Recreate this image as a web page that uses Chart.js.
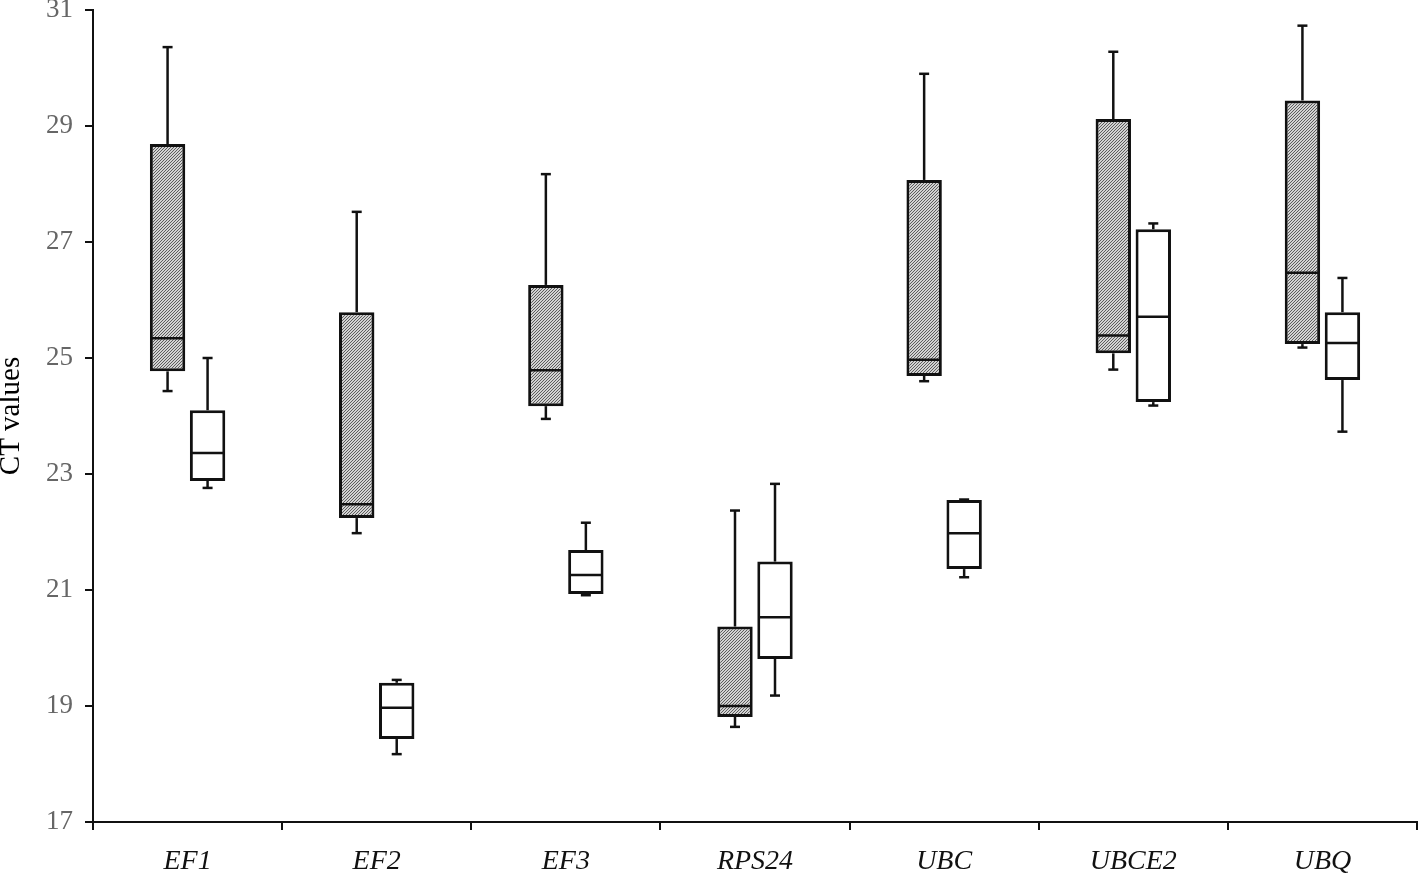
<!DOCTYPE html>
<html>
<head>
<meta charset="utf-8">
<script src="https://cdn.jsdelivr.net/npm/chart.js@4/dist/chart.umd.min.js"></script>
<style>
html,body{margin:0;padding:0;background:#fff;}
#wrap{width:1418px;height:875px;position:relative;}
</style>
</head>
<body>
<div id="wrap"><canvas id="c"></canvas></div>
<script>
const categories = ['EF1','EF2','EF3','RPS24','UBC','UBCE2','UBQ'];
const yTicks = [17,19,21,23,25,27,29,31];

// hatched (grey) series
const grayMin    = [24.43, 21.98, 23.95, 18.64, 24.60, 24.80, 25.18];
const grayQ1     = [24.77, 22.24, 24.17, 18.81, 24.69, 25.08, 25.24];
const grayMedian = [25.34, 22.48, 24.79, 19.00, 24.97, 25.39, 26.47];
const grayQ3     = [28.69, 25.79, 26.26, 20.37, 28.07, 29.12, 29.44];
const grayMax    = [30.36, 27.52, 28.17, 22.37, 29.90, 30.28, 30.73];

// white series
const whiteMin    = [22.76, 18.17, 20.91, 19.18, 21.22, 24.18, 23.73];
const whiteQ1     = [22.88, 18.43, 20.93, 19.81, 21.36, 24.24, 24.62];
const whiteMedian = [23.36, 18.97, 21.26, 20.53, 21.98, 25.71, 25.26];
const whiteQ3     = [24.10, 19.40, 21.69, 21.49, 22.55, 27.22, 25.79];
const whiteMax    = [25.00, 19.45, 22.16, 22.83, 22.56, 27.32, 26.38];

const canvas = document.getElementById('c');
const mainCtx = canvas.getContext('2d');

function hatchPattern(){
  const t = document.createElement('canvas');
  t.width = 3; t.height = 3;
  const g = t.getContext('2d');
  g.fillStyle = '#d2d2d2'; g.fillRect(0,0,3,3);
  g.fillStyle = '#5c5c5c';
  g.fillRect(0,2,1,1); g.fillRect(1,1,1,1); g.fillRect(2,0,1,1);
  return mainCtx.createPattern(t,'repeat');
}

const stats = [
  {min: grayMin, q1: grayQ1, med: grayMedian, q3: grayQ3, max: grayMax},
  {min: whiteMin, q1: whiteQ1, med: whiteMedian, q3: whiteQ3, max: whiteMax}
];

const whiskerPlugin = {
  id: 'whiskers',
  afterDatasetsDraw(chart){
    const ctx = chart.ctx, y = chart.scales.y;
    ctx.save();
    ctx.strokeStyle = '#111';
    ctx.lineWidth = 2.5;
    ctx.lineCap = 'butt';
    const line = (x1,y1,x2,y2)=>{ctx.beginPath();ctx.moveTo(x1,y1);ctx.lineTo(x2,y2);ctx.stroke();};
    stats.forEach((s,di)=>{
      const meta = chart.getDatasetMeta(di);
      meta.data.forEach((bar,i)=>{
        const x = bar.x, hw = bar.width/2;
        const pm = y.getPixelForValue(s.med[i]);
        line(x-hw+1, pm, x+hw-1, pm);
        const p3 = y.getPixelForValue(s.q3[i]), pmax = y.getPixelForValue(s.max[i]);
        const p1 = y.getPixelForValue(s.q1[i]), pmin = y.getPixelForValue(s.min[i]);
        if (pmax < p3) { line(x, p3, x, pmax); line(x-5, pmax, x+5, pmax); }
        if (pmin > p1) { line(x, p1, x, pmin); line(x-5, pmin, x+5, pmin); }
      });
    });
    ctx.restore();
  }
};

new Chart(canvas, {
  type: 'bar',
  data: {
    labels: categories,
    datasets: [
      {
        data: categories.map((_,i)=>[grayQ1[i], grayQ3[i]]),
        backgroundColor: hatchPattern(),
        borderColor: '#111',
        borderWidth: 3,
        borderSkipped: false,
        categoryPercentage: 0.423,
        barPercentage: 0.885
      },
      {
        data: categories.map((_,i)=>[whiteQ1[i], whiteQ3[i]]),
        backgroundColor: '#ffffff',
        borderColor: '#111',
        borderWidth: 3,
        borderSkipped: false,
        categoryPercentage: 0.423,
        barPercentage: 0.885
      }
    ]
  },
  options: {
    responsive: true,
    maintainAspectRatio: false,
    animation: false,
    layout: {padding: {top: 10, right: 1, left: 0, bottom: 0}},
    plugins: {legend: {display: false}, tooltip: {enabled: false}},
    scales: {
      x: {
        grid: {display: true, drawOnChartArea: false, drawTicks: true, tickLength: 8, color: '#111', lineWidth: 2, offset: true},
        border: {display: true, color: '#111', width: 2},
        ticks: {
          padding: 15,
          color: '#111',
          font: {family: 'Liberation Serif', size: 28, style: 'italic'}
        },
        afterFit(s){ s.height = 53; s.paddingLeft = 0; s.paddingRight = 0; }
      },
      y: {
        min: 17, max: 31,
        afterBuildTicks(s){ s.ticks = yTicks.map(v=>({value: v})); },
        grid: {display: true, drawOnChartArea: false, drawTicks: true, tickLength: 8, color: '#111', lineWidth: 2},
        border: {display: true, color: '#111', width: 2},
        ticks: {
          padding: 12,
          color: '#666',
          font: {family: 'Liberation Serif', size: 27}
        },
        title: {
          display: true,
          text: 'CT values',
          color: '#000',
          padding: {top: 0, bottom: 0},
          font: {family: 'Liberation Serif', size: 29, lineHeight: 0.8}
        },
        afterFit(s){ s.width = 93; s.paddingTop = 0; s.paddingBottom = 0; }
      }
    }
  },
  plugins: [whiskerPlugin]
});
</script>
</body>
</html>
